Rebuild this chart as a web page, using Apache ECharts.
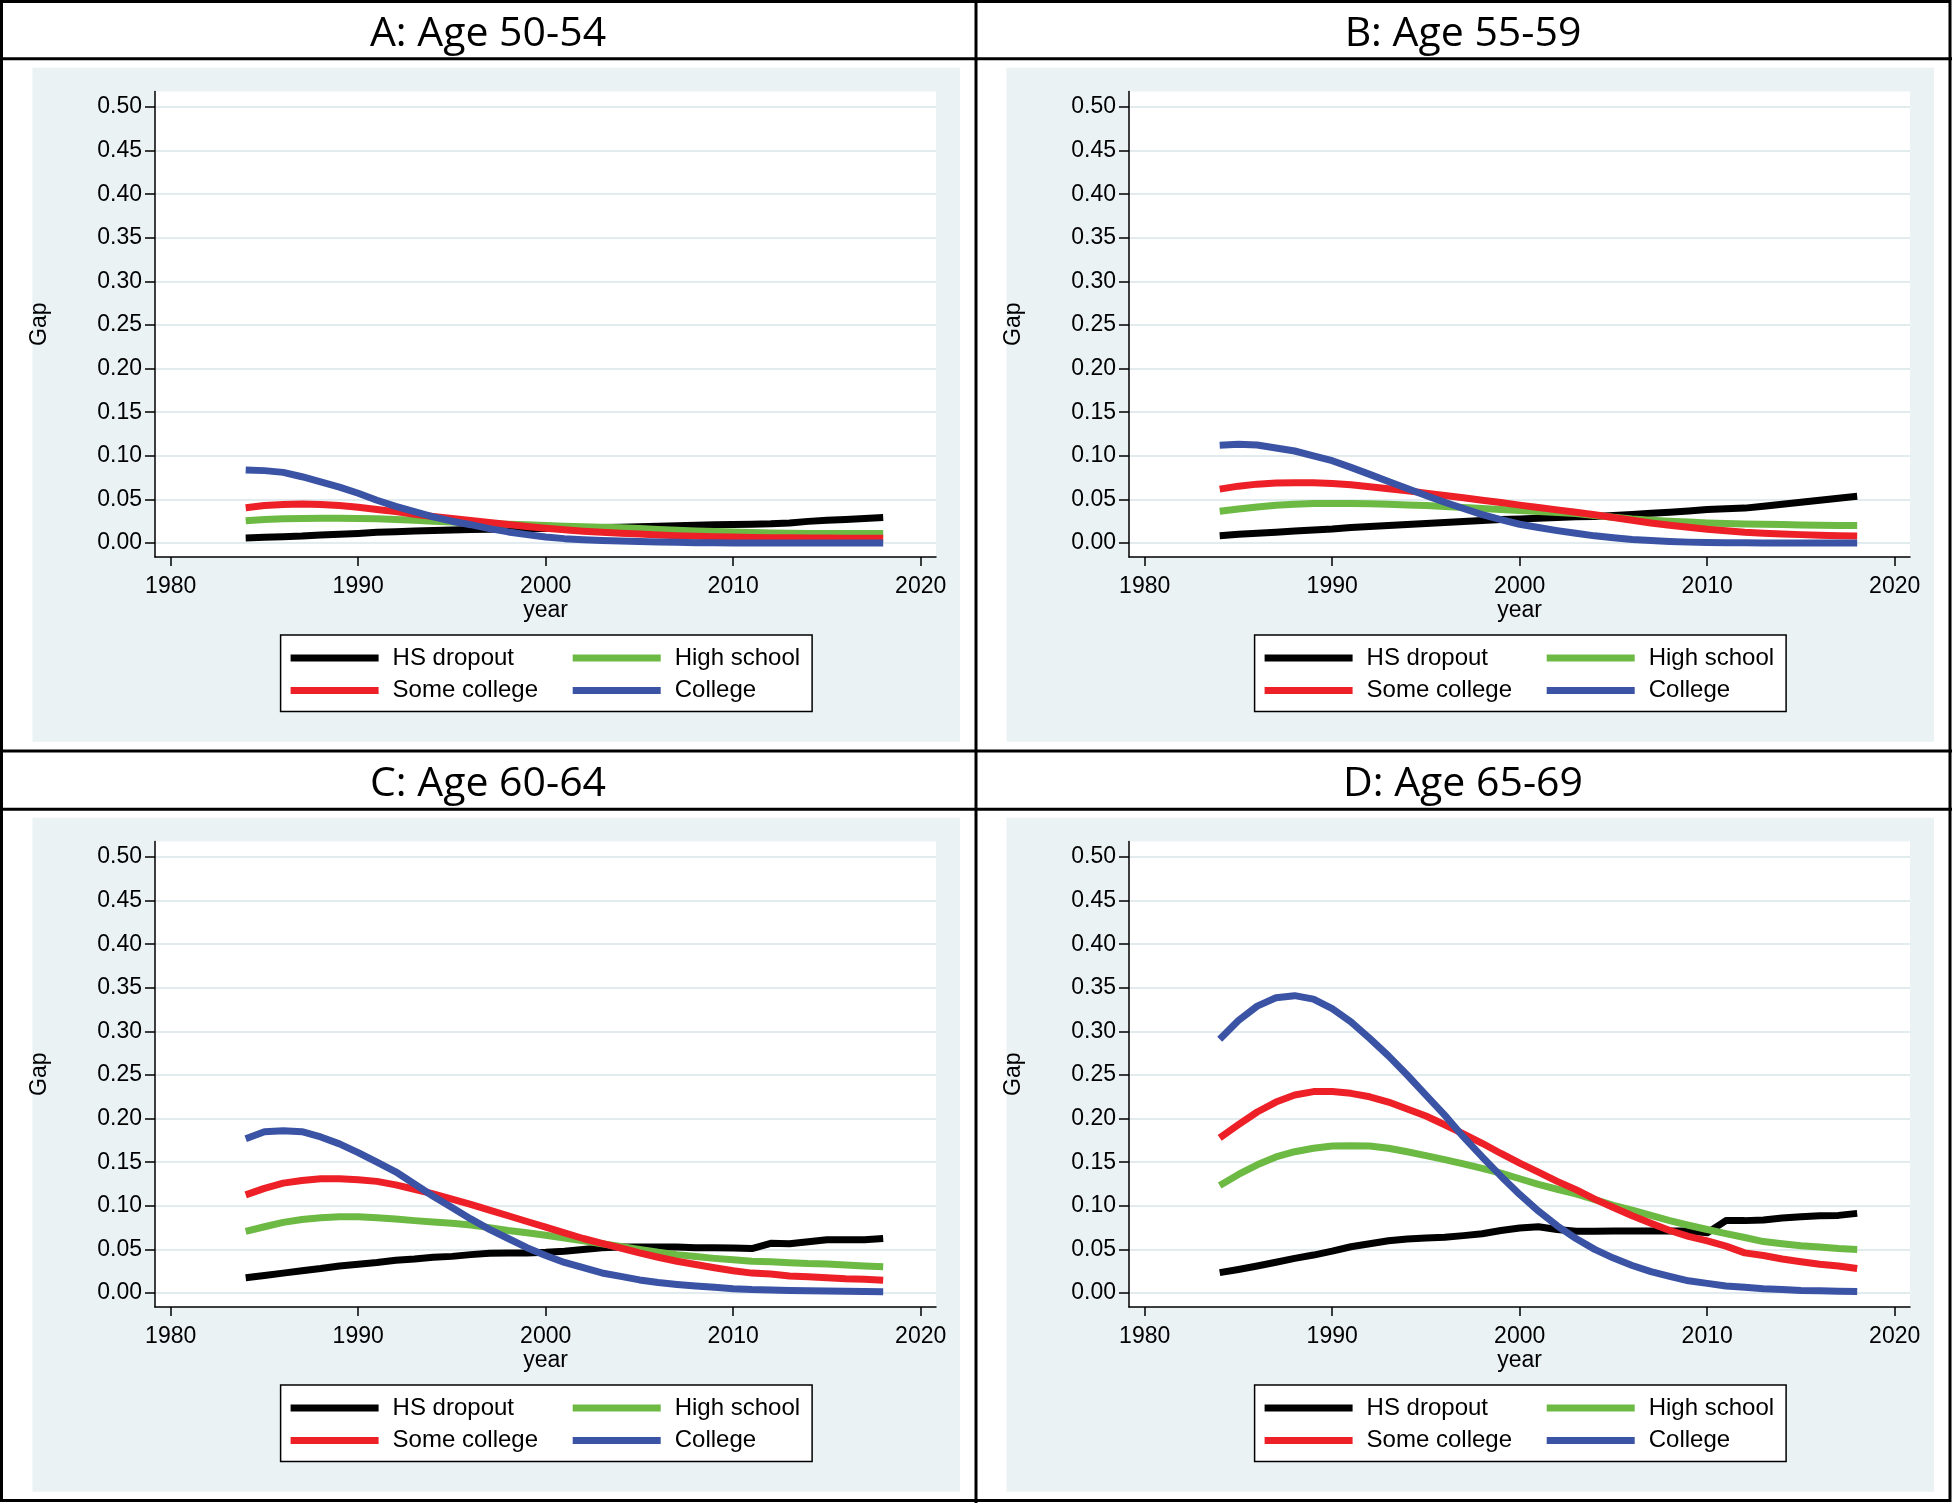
<!DOCTYPE html>
<html><head><meta charset="utf-8">
<script src="https://cdn.jsdelivr.net/npm/echarts@6/dist/echarts.min.js"></script>
<style>html,body{margin:0;padding:0;background:#fff}#c{width:1952px;height:1503px}</style>
</head><body><div id="c"></div><script>
const years = [1984,1985,1986,1987,1988,1989,1990,1991,1992,1993,1994,1995,1996,1997,1998,1999,2000,2001,2002,2003,2004,2005,2006,2007,2008,2009,2010,2011,2012,2013,2014,2015,2016,2017,2018];
const xTicks = [1980,1990,2000,2010,2020];
const yTicks = [0,0.05,0.10,0.15,0.20,0.25,0.30,0.35,0.40,0.45,0.50];
const seriesNames = ['HS dropout','High school','Some college','College'];
const seriesColors = ['#000000','#6CBA44','#ED2027','#3B53A4'];
const panelTitles = ['A: Age 50-54','B: Age 55-59','C: Age 60-64','D: Age 65-69'];

const a_hsDropout = [0.0058,0.0065,0.0073,0.0080,0.0092,0.0100,0.0110,0.0123,0.0130,0.0138,0.0142,0.0150,0.0154,0.0158,0.0160,0.0165,0.0167,0.0170,0.0173,0.0177,0.0182,0.0186,0.0192,0.0198,0.0204,0.0208,0.0212,0.0216,0.0220,0.0230,0.0248,0.0260,0.0270,0.0280,0.0292];
const a_highSchool = [0.0254,0.0270,0.0277,0.0280,0.0285,0.0285,0.0280,0.0277,0.0270,0.0260,0.0250,0.0240,0.0230,0.0222,0.0215,0.0208,0.0200,0.0192,0.0185,0.0180,0.0175,0.0165,0.0154,0.0146,0.0138,0.0132,0.0127,0.0120,0.0115,0.0112,0.0110,0.0109,0.0108,0.0108,0.0108];
const a_someCollege = [0.0404,0.0430,0.0442,0.0446,0.0442,0.0430,0.0410,0.0385,0.0360,0.0330,0.0304,0.0280,0.0258,0.0235,0.0212,0.0190,0.0170,0.0152,0.0136,0.0123,0.0113,0.0102,0.0092,0.0084,0.0077,0.0073,0.0069,0.0064,0.0060,0.0059,0.0058,0.0056,0.0055,0.0054,0.0054];
const a_college = [0.0838,0.0830,0.0810,0.0760,0.0700,0.0640,0.0570,0.0490,0.0420,0.0360,0.0300,0.0250,0.0210,0.0165,0.0127,0.0096,0.0069,0.0050,0.0038,0.0030,0.0023,0.0017,0.0012,0.0008,0.0004,0.0002,0.0001,0,0,0,0,0,0,0,0];

const b_hsDropout = [0.0084,0.0100,0.0111,0.0123,0.0138,0.0150,0.0160,0.0177,0.0188,0.0200,0.0211,0.0223,0.0234,0.0246,0.0257,0.0269,0.0276,0.0284,0.0292,0.0300,0.0303,0.0314,0.0326,0.0340,0.0353,0.0368,0.0384,0.0392,0.0400,0.0422,0.0445,0.0468,0.0490,0.0514,0.0537];
const b_highSchool = [0.0365,0.0390,0.0414,0.0434,0.0445,0.0453,0.0453,0.0453,0.0449,0.0445,0.0437,0.0430,0.0418,0.0407,0.0395,0.0384,0.0372,0.0360,0.0350,0.0338,0.0315,0.0295,0.0276,0.0262,0.0250,0.0240,0.0230,0.0224,0.0219,0.0215,0.0211,0.0207,0.0203,0.0201,0.0200];
const b_someCollege = [0.0618,0.0652,0.0675,0.0687,0.0690,0.0690,0.0683,0.0668,0.0645,0.0622,0.0599,0.0572,0.0545,0.0518,0.0491,0.0464,0.0434,0.0407,0.0380,0.0353,0.0324,0.0292,0.0260,0.0230,0.0203,0.0180,0.0157,0.0140,0.0123,0.0113,0.0104,0.0096,0.0088,0.0084,0.0080];
const b_college = [0.1120,0.1132,0.1124,0.1090,0.1055,0.1000,0.0944,0.0867,0.0787,0.0706,0.0625,0.0545,0.0468,0.0395,0.0326,0.0269,0.0215,0.0177,0.0142,0.0111,0.0082,0.0060,0.0040,0.0028,0.0018,0.0010,0.0005,0.0003,0.0002,0.0001,0,0,0,0,0];

const c_hsDropout = [0.0174,0.0200,0.0228,0.0255,0.0280,0.0310,0.0330,0.0350,0.0375,0.0390,0.0410,0.0420,0.0440,0.0457,0.0460,0.0460,0.0467,0.0480,0.0500,0.0520,0.0527,0.0527,0.0527,0.0527,0.0520,0.0520,0.0516,0.0510,0.0570,0.0565,0.0587,0.0610,0.0610,0.0610,0.0625];
const c_highSchool = [0.0707,0.0760,0.0810,0.0842,0.0864,0.0875,0.0875,0.0864,0.0848,0.0830,0.0815,0.0800,0.0780,0.0750,0.0717,0.0690,0.0663,0.0630,0.0600,0.0565,0.0533,0.0500,0.0467,0.0440,0.0418,0.0397,0.0380,0.0364,0.0359,0.0348,0.0337,0.0332,0.0320,0.0310,0.0300];
const c_someCollege = [0.1125,0.1200,0.1260,0.1290,0.1310,0.1310,0.1300,0.1280,0.1240,0.1190,0.1136,0.1076,0.1016,0.0950,0.0886,0.0820,0.0755,0.0690,0.0625,0.0570,0.0516,0.0460,0.0410,0.0364,0.0326,0.0290,0.0255,0.0228,0.0217,0.0196,0.0185,0.0174,0.0163,0.0158,0.0147];
const c_college = [0.1770,0.1850,0.1860,0.1850,0.1790,0.1710,0.1610,0.1500,0.1390,0.1250,0.1110,0.0980,0.0850,0.0730,0.0625,0.0520,0.0430,0.0350,0.0290,0.0230,0.0190,0.0150,0.0120,0.0098,0.0080,0.0065,0.0050,0.0040,0.0035,0.0030,0.0025,0.0022,0.0020,0.0018,0.0015];

const d_hsDropout = [0.0234,0.0270,0.0310,0.0353,0.0397,0.0435,0.0480,0.0530,0.0565,0.0600,0.0620,0.0630,0.0640,0.0658,0.0680,0.0717,0.0745,0.0760,0.0728,0.0707,0.0707,0.0710,0.0710,0.0710,0.0710,0.0710,0.0690,0.0830,0.0830,0.0837,0.0860,0.0875,0.0886,0.0890,0.0913];
const d_highSchool = [0.1234,0.1360,0.1470,0.1560,0.1620,0.1660,0.1685,0.1690,0.1685,0.1660,0.1620,0.1576,0.1530,0.1480,0.1430,0.1375,0.1310,0.1245,0.1190,0.1136,0.1070,0.1005,0.0950,0.0890,0.0830,0.0777,0.0728,0.0680,0.0636,0.0590,0.0565,0.0543,0.0527,0.0510,0.0500];
const d_someCollege = [0.1780,0.1930,0.2076,0.2190,0.2270,0.2310,0.2310,0.2290,0.2250,0.2190,0.2110,0.2030,0.1930,0.1826,0.1717,0.1600,0.1490,0.1386,0.1280,0.1185,0.1076,0.0980,0.0886,0.0800,0.0717,0.0650,0.0598,0.0538,0.0460,0.0430,0.0390,0.0359,0.0330,0.0310,0.0280];
const d_college = [0.2910,0.3125,0.3290,0.3386,0.3410,0.3370,0.3260,0.3110,0.2920,0.2720,0.2500,0.2270,0.2040,0.1790,0.1560,0.1340,0.1130,0.0940,0.0770,0.0625,0.0500,0.0400,0.0315,0.0245,0.0190,0.0140,0.0110,0.0080,0.0065,0.0050,0.0040,0.0030,0.0027,0.0020,0.0016];

const panelData = [
  [a_hsDropout, a_highSchool, a_someCollege, a_college],
  [b_hsDropout, b_highSchool, b_someCollege, b_college],
  [c_hsDropout, c_highSchool, c_someCollege, c_college],
  [d_hsDropout, d_highSchool, d_someCollege, d_college]
];

const offsets = [[0,0],[974,0],[0,750],[974,750]];
const titleX = [488, 1463, 488, 1463];
const FONT = '"Liberation Sans", Arial, sans-serif';

const grids = [], xAxes = [], yAxes = [], series = [], legends = [], graphics = [];

offsets.forEach(([dx, dy], i) => {
  graphics.push({type:'rect', z:-100, shape:{x:32.5+dx, y:67.7+dy, width:927.5, height:674}, style:{fill:'#EAF2F3'}, silent:true});
  graphics.push({type:'text', z:10, x:titleX[i], y:34+dy, style:{text:panelTitles[i], font:'41px "Open Sans", sans-serif', fill:'#000', align:'center', verticalAlign:'middle'}, silent:true});

  grids.push({left:155+dx, top:91.5+dy, width:781, height:465.5, show:true, backgroundColor:'#ffffff', borderWidth:0, containLabel:false});
  xAxes.push({
    type:'value', gridIndex:i, min:1979.163, max:2020.816,
    axisLine:{show:true, onZero:false, lineStyle:{color:'#000', width:1.5}},
    axisTick:{show:true, customValues:xTicks, length:9, lineStyle:{color:'#000', width:1.5}},
    axisLabel:{show:true, customValues:xTicks, margin:18.5, fontSize:23, color:'#000', fontFamily:FONT, formatter:v=>String(v)},
    splitLine:{show:false},
    name:'year', nameLocation:'middle', nameGap:41.5, nameTextStyle:{fontSize:23, color:'#000', fontFamily:FONT}
  });
  yAxes.push({
    type:'value', gridIndex:i, min:-0.01606, max:0.5178,
    axisLine:{show:true, onZero:false, lineStyle:{color:'#000', width:1.5}},
    axisTick:{show:true, customValues:yTicks, length:10, lineStyle:{color:'#000', width:1.5}},
    axisLabel:{show:true, customValues:yTicks, margin:13, fontSize:23, color:'#000', fontFamily:FONT, formatter:v=>v.toFixed(2)},
    splitLine:{show:true, lineStyle:{color:'#E2EBED', width:2}},
    name:'Gap', nameLocation:'middle', nameGap:104, nameRotate:90, nameTextStyle:{fontSize:23, color:'#000', fontFamily:FONT}
  });
  seriesNames.forEach((nm, k) => {
    series.push({
      type:'line', name:nm, xAxisIndex:i, yAxisIndex:i,
      data: years.map((yr, j) => [yr, panelData[i][k][j]]),
      showSymbol:false, symbol:'none', smooth:false, silent:true,
      color:seriesColors[k], itemStyle:{color:seriesColors[k]},
      lineStyle:{width:7, color:seriesColors[k], cap:'butt', join:'round'},
      z: 2 + k
    });
  });
  legends.push({
    left:280.6+dx, top:635+dy, orient:'horizontal', width:520,
    itemWidth:88, itemHeight:7, itemGap:8.6, padding:[11,12,9,10],
    borderColor:'#000', borderWidth:1.5, backgroundColor:'#fff', borderRadius:0,
    icon:'rect', selectedMode:false, data:seriesNames,
    formatter: n => (n === 'HS dropout' || n === 'Some college') ? '{a|' + n + '}' : '{b|' + n + '}',
    textStyle:{fontFamily:FONT, fontSize:24, color:'#000',
      rich:{
        a:{width:171.5, padding:[0,0,0,9], fontSize:24, lineHeight:24, fontFamily:FONT, color:'#000'},
        b:{padding:[0,0,0,9], fontSize:24, lineHeight:24, fontFamily:FONT, color:'#000'}
      }}
  });
});

graphics.push({type:'rect', z:20, shape:{x:1.5, y:1.5, width:1948.5, height:1499}, style:{fill:'none', stroke:'#000', lineWidth:3}, silent:true});
graphics.push({type:'line', z:20, shape:{x1:976, y1:0, x2:976, y2:1503}, style:{stroke:'#000', lineWidth:3}, silent:true});
[58.7, 751, 809.3].forEach(y => graphics.push({type:'line', z:20, shape:{x1:0, y1:y, x2:1952, y2:y}, style:{stroke:'#000', lineWidth:3}, silent:true}));

const chart = echarts.init(document.getElementById('c'), null, {renderer:'canvas'});
chart.setOption({
  animation:false,
  backgroundColor:'#ffffff',
  grid:grids, xAxis:xAxes, yAxis:yAxes, series:series, legend:legends,
  graphic:{elements:graphics}
});
</script></body></html>
